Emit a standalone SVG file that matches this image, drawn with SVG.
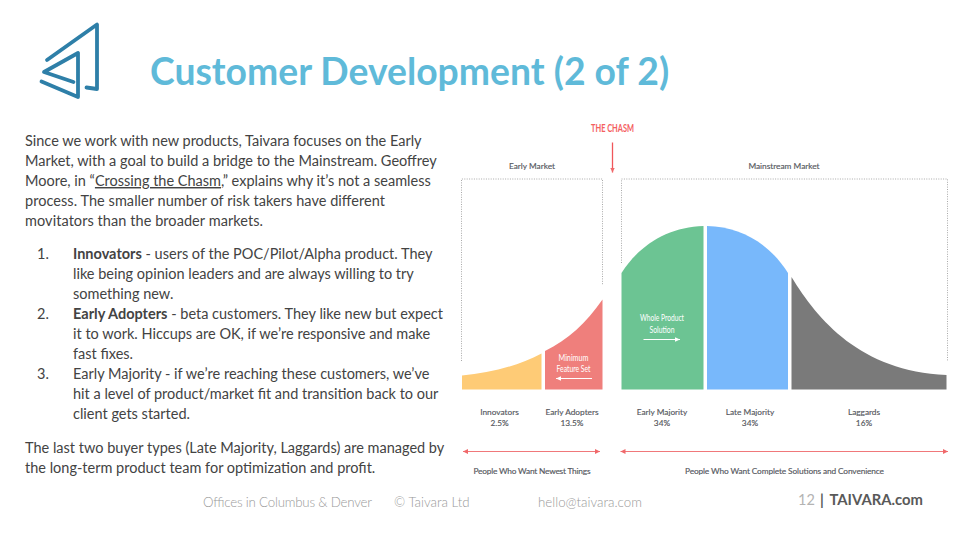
<svg xmlns="http://www.w3.org/2000/svg" width="960" height="540" viewBox="0 0 960 540">
<style>
text{font-family:Lato,"Open Sans","Liberation Sans",sans-serif}
.b{font-size:14.500px;fill:#434343}
.c{font-size:8.300px;fill:#55585e;stroke:#55585e;stroke-width:.15;text-anchor:middle}
.w{font-size:9px;fill:#fff;text-anchor:middle;font-weight:400}
.f{font-size:13.300px;fill:#999;font-weight:300}
.dot{fill:none;stroke:#a9a9a9;stroke-width:1;stroke-dasharray:1 1.400}
.red{stroke:#f0787a;stroke-width:1;fill:none}
.logo{fill:none;stroke:#2e7fa8;stroke-width:3.800;stroke-linecap:round;stroke-linejoin:round}
</style>
<defs>
<marker id="ra" markerWidth="6" markerHeight="6" refX="5" refY="3" orient="auto-start-reverse" markerUnits="userSpaceOnUse"><path d="M0 .6L5 3L0 5.400z" fill="#f0686a"/></marker>
<marker id="wa" markerWidth="6" markerHeight="6" refX="5" refY="3" orient="auto" markerUnits="userSpaceOnUse"><path d="M0 .8L5 3L0 5.200z" fill="#fff"/></marker>
</defs>
<rect width="960" height="540" fill="#fff"/>
<g id="logo" class="logo">
<path d="M47 60L97 24.500V89L86.500 87.500"/>
<path d="M73.500 82L44 72L78 53V97L41.500 81.500"/>
</g>
<text id="title" x="150" y="85" style="font-size:37.300px;font-weight:700;fill:#5fbad9">Customer Development (2 of 2)</text>
<g id="body" class="b">
<text x="25" y="146">Since we work with new products, Taivara focuses on the Early</text>
<text x="25" y="166">Market, with a goal to build a bridge to the Mainstream. Geoffrey</text>
<text x="25" y="186">Moore, in “<tspan text-decoration="underline">Crossing the Chasm</tspan>,” explains why it’s not a seamless</text>
<text x="25" y="206" textLength="360">process. The smaller number of risk takers have different</text>
<text x="25" y="226" textLength="238">movitators than the broader markets.</text>
<text x="37" y="259">1.</text>
<text x="73" y="259"><tspan font-weight="700">Innovators</tspan> - users of the POC/Pilot/Alpha product. They</text>
<text x="73" y="279">like being opinion leaders and are always willing to try</text>
<text x="73" y="299">something new.</text>
<text x="37" y="319">2.</text>
<text x="73" y="319"><tspan font-weight="700">Early Adopters</tspan> - beta customers. They like new but expect</text>
<text x="73" y="339">it to work. Hiccups are OK, if we’re responsive and make</text>
<text x="73" y="359">fast fixes.</text>
<text x="37" y="379">3.</text>
<text x="73" y="379">Early Majority - if we’re reaching these customers, we’ve</text>
<text x="73" y="399">hit a level of product/market fit and transition back to our</text>
<text x="73" y="419">client gets started.</text>
<text x="25" y="453">The last two buyer types (Late Majority, Laggards) are managed by</text>
<text x="25" y="473">the long-term product team for optimization and profit.</text>
</g>
<g id="chasm">
<text x="612.500" y="132" text-anchor="middle" textLength="43" lengthAdjust="spacingAndGlyphs" style="font-size:10.500px;fill:#f4605f;font-weight:700">THE CHASM</text>
</g>
<g id="early-market">
<text x="532" y="169" class="c">Early Market</text>
<path class="dot" d="M461.500 361V179H602.500V285"/>
</g>
<g id="mainstream-market">
<text x="784" y="169" class="c">Mainstream Market</text>
<path class="dot" d="M621.500 263V179H947.500V361"/>
</g>
<g id="innovators">
<path d="M462 375.500C490 373 518 366 541.500 353.500V389.500H462z" fill="#fecb76"/>
<text x="499.500" y="415" class="c">Innovators</text>
<text x="499.500" y="426" class="c">2.5%</text>
</g>
<g id="early-adopters">
<path d="M545 351C568 340 586 323 602.500 299.500V389.500H545z" fill="#ef7f7c"/>
<text x="573.500" y="360.500" class="w" textLength="30" lengthAdjust="spacingAndGlyphs">Minimum</text>
<text x="573.500" y="372" class="w" textLength="34" lengthAdjust="spacingAndGlyphs">Feature Set</text>
<text x="572" y="415" class="c">Early Adopters</text>
<text x="572" y="426" class="c">13.5%</text>
</g>
<g id="early-majority">
<path d="M621.500 273C640 244 669 227 703.500 226V389.500H621.500z" fill="#6cc493"/>
<text x="662" y="321" class="w" textLength="44" lengthAdjust="spacingAndGlyphs">Whole Product</text>
<text x="662" y="332.500" class="w" textLength="25" lengthAdjust="spacingAndGlyphs">Solution</text>
<text x="662" y="415" class="c">Early Majority</text>
<text x="662" y="426" class="c">34%</text>
</g>
<g id="late-majority">
<path d="M707 226C741 227 769 243 788 273V389.500H707z" fill="#78b8fb"/>
<text x="750" y="415" class="c">Late Majority</text>
<text x="750" y="426" class="c">34%</text>
</g>
<g id="laggards">
<path d="M791.500 277C818 320 860 371 946.500 375V389.500H791.500z" fill="#7a7a7a"/>
<text x="864" y="415" class="c">Laggards</text>
<text x="864" y="426" class="c">16%</text>
</g>
<g id="connectors">
<path d="M612.500 142.500V172.500" stroke="#f0565a" stroke-width="1.300" fill="none" marker-end="url(#ra)"/>
<path d="M592 378.500H556" stroke="#fff" stroke-width="1" fill="none" marker-end="url(#wa)"/>
<path d="M643.500 339.500H680" stroke="#fff" stroke-width="1" fill="none" marker-end="url(#wa)"/>
<path class="red" d="M463 451.500H600" marker-start="url(#ra)" marker-end="url(#ra)"/>
<path class="red" d="M620.500 451.500H948" marker-start="url(#ra)" marker-end="url(#ra)"/>
</g>
<g id="captions">
<text x="532" y="474" class="c" textLength="117">People Who Want Newest Things</text>
<text x="784.500" y="474" class="c" textLength="199">People Who Want Complete Solutions and Convenience</text>
</g>
<g id="footer">
<text x="203" y="507" class="f" textLength="169">Offices in Columbus &amp; Denver</text>
<text x="394" y="507" class="f">© Taivara Ltd</text>
<text x="538" y="507" class="f">hello@taivara.com</text>
<text x="798" y="505" style="font-size:14.500px;fill:#b3b3b3">12</text>
<text x="820" y="505" style="font-size:14.500px;fill:#595959;font-weight:700">|</text>
<text x="829.500" y="505" style="font-size:14.800px;fill:#595959;font-weight:700">TAIVARA.com</text>
</g>
</svg>
